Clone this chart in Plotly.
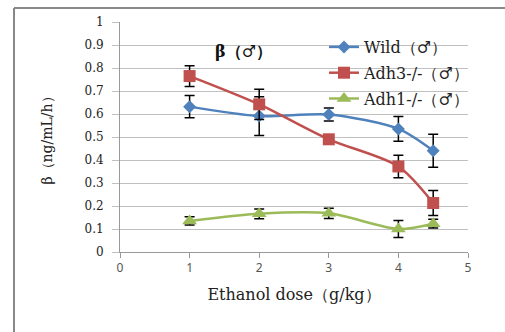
import plotly.graph_objects as go

dose = [1, 2, 3, 4, 4.5]
wild = [0.632, 0.591, 0.598, 0.535, 0.44]
wild_err = [0.048, 0.084, 0.028, 0.054, 0.072]
adh3 = [0.765, 0.642, 0.49, 0.372, 0.213]
adh3_err = [0.045, 0.066, 0.008, 0.049, 0.054]
adh1 = [0.135, 0.166, 0.168, 0.100, 0.123]
adh1_err = [0.018, 0.021, 0.022, 0.037, 0.019]

names = ["Wild（♂）", "Adh3-/-（♂）", "Adh1-/-（♂）"]
colors = ["#4F81BD", "#C0504D", "#9BBB59"]
symbols = ["diamond", "square", "triangle-up"]
sizes = [10, 12, 13]
series = [wild, adh3, adh1]
errors = [wild_err, adh3_err, adh1_err]

W, H = 505, 332
L, R, T, B = 120, 37, 22, 80
pw, ph = W - L - R, H - T - B

def px(x):
    return (x - L) / pw

def py(y):
    return 1 - (y - T) / ph

fig = go.Figure()
for i in range(3):
    fig.add_trace(go.Scatter(
        x=dose, y=series[i], name=names[i], mode="lines+markers",
        line=dict(color=colors[i], width=2.5, shape="spline", smoothing=0.8),
        marker=dict(symbol=symbols[i], size=sizes[i], color=colors[i]),
        error_y=dict(type="data", array=errors[i], color="black", thickness=1.5, width=5),
        legendgroup=str(i),
    ))

axis_font = dict(family="DejaVu Serif", size=12, color="#222")
fig.update_layout(
    width=W, height=H,
    margin=dict(l=L, r=R, t=T, b=B),
    paper_bgcolor="white", plot_bgcolor="white",
    showlegend=True,
    legend=dict(x=px(324), y=py(30), xanchor="left", yanchor="top",
                bgcolor="rgba(0,0,0,0)", font=dict(family="DejaVu Serif", size=16, color="#222"),
                traceorder="grouped", tracegroupgap=2, itemwidth=30),
    xaxis=dict(range=[0, 5], tickvals=[0, 1, 2, 3, 4, 5], showgrid=False, zeroline=False,
               showline=True, linecolor="#999", linewidth=1, ticks="outside", ticklen=5,
               tickcolor="#999", tickfont=dict(family="Noto Sans", size=12, color="#555"),
               title=dict(text="Ethanol dose（g/kg）", font=dict(family="DejaVu Serif", size=16, color="#222"),
                          standoff=13)),
    yaxis=dict(range=[0, 1], tickvals=[i / 10 for i in range(11)],
               ticktext=["0", "0.1", "0.2", "0.3", "0.4", "0.5", "0.6", "0.7", "0.8", "0.9", "1"],
               showgrid=True, gridcolor="#c0c0c0", gridwidth=1, zeroline=False,
               showline=True, linecolor="#999", linewidth=1, ticks="outside", ticklen=7,
               tickcolor="#c0c0c0", tickfont=axis_font, ticklabelstandoff=6,
               title=dict(text="β（ng/mL/h）", font=dict(family="DejaVu Serif", size=14, color="#222"),
                          standoff=28)),
    annotations=[dict(text="<b>β（♂）</b>", x=px(243), y=py(40), xref="paper", yref="paper",
                      showarrow=False, font=dict(family="DejaVu Serif", size=16, color="#111"))],
    shapes=[
        dict(type="line", xref="paper", yref="paper", x0=px(14), x1=px(14), y0=py(8), y1=py(340),
             line=dict(color="#888", width=2)),
        dict(type="line", xref="paper", yref="paper", x0=px(14), x1=px(510), y0=py(8), y1=py(8),
             line=dict(color="#888", width=2)),
    ],
)
fig.write_html("out.html")
